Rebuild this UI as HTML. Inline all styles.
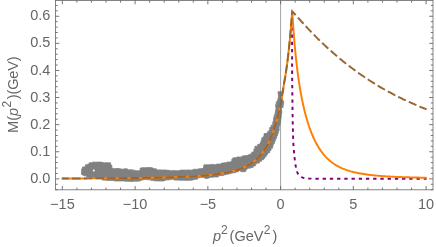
<!DOCTYPE html>
<html><head><meta charset="utf-8"><style>
html,body{margin:0;padding:0;background:#fff;}
svg{display:block;font-family:"Liberation Sans",sans-serif;will-change:transform;}
</style></head><body>
<svg width="436" height="247" viewBox="0 0 436 247">
<rect width="436" height="247" fill="#fff"/>
<path d="M81.5 174.4 L81.5 171.6 L81.6 169.5 L82.8 166.9 L85.4 166.9 L85.4 166.9 L85.4 164.8 L86.8 164.8 L89.2 163.7 L89.2 162.8 L91.1 162.8 L93.7 162.0 L96.3 162.3 L96.3 162.1 L98.9 162.1 L101.6 162.1 L101.6 162.3 L104.2 162.8 L106.8 162.8 L106.8 163.4 L106.8 162.8 L109.5 162.8 L110.6 162.8 L110.6 165.1 L111.8 165.1 L111.8 167.9 L114.2 168.7 L116.9 168.5 L116.9 168.5 L119.5 168.5 L122.1 169.3 L124.7 168.8 L127.3 168.8 L127.3 170.0 L127.3 169.8 L129.9 169.8 L132.5 169.8 L132.5 170.2 L135.1 170.2 L135.1 170.8 L137.6 170.8 L137.6 170.8 L140.1 170.7 L140.1 168.0 L141.8 168.0 L141.8 167.7 L144.2 167.7 L146.9 167.7 L146.9 167.5 L149.5 167.5 L152.1 167.7 L154.2 168.8 L156.4 168.8 L156.4 169.9 L159.0 169.9 L159.0 169.9 L161.6 169.9 L161.6 170.3 L161.6 170.0 L164.2 170.0 L166.9 170.0 L166.9 170.3 L169.5 170.3 L169.5 171.0 L169.5 170.8 L172.1 170.8 L172.1 170.6 L174.7 170.6 L177.3 170.9 L177.3 170.7 L180.0 170.7 L180.0 170.1 L182.6 170.1 L185.2 170.1 L185.2 170.2 L187.8 170.0 L190.5 170.0 L190.5 170.2 L193.1 169.9 L193.1 169.3 L195.7 169.3 L198.4 169.3 L198.4 169.8 L198.4 168.8 L201.0 168.8 L201.0 168.6 L203.5 168.6 L203.5 166.4 L203.9 166.4 L203.9 164.8 L205.8 164.8 L208.4 164.8 L208.4 165.0 L211.1 164.4 L213.7 164.4 L213.7 164.8 L213.7 164.7 L216.3 164.7 L216.3 164.1 L218.9 164.1 L218.9 164.0 L221.5 164.0 L221.5 163.0 L224.1 163.0 L224.1 162.8 L226.7 162.8 L226.7 162.1 L229.3 162.1 L231.8 161.4 L231.8 159.2 L232.8 159.2 L232.8 157.9 L234.2 157.9 L234.2 157.7 L236.8 157.7 L236.8 157.0 L239.4 157.0 L242.0 157.0 L242.0 155.9 L244.6 155.9 L244.6 155.6 L247.0 155.6 L249.4 154.4 L251.8 153.6 L251.8 152.0 L253.9 152.0 L253.9 149.1 L254.9 149.1 L254.9 146.5 L255.1 146.5 L255.1 146.2 L257.6 146.2 L257.6 144.5 L260.0 144.5 L260.0 142.6 L261.1 142.6 L261.1 140.2 L261.8 140.2 L261.8 137.8 L262.9 137.8 L264.0 135.5 L264.0 133.6 L266.5 133.6 L267.7 131.8 L269.7 129.8 L269.7 127.5 L271.0 127.5 L271.0 125.2 L272.8 125.2 L272.7 122.7 L273.6 120.1 L273.6 117.5 L274.2 117.5 L274.2 114.9 L275.1 114.9 L275.1 112.3 L275.6 112.3 L275.6 109.7 L276.0 109.7 L276.0 107.1 L275.7 107.1 L275.7 104.5 L276.2 104.5 L276.2 102.0 L276.8 102.0 L277.9 99.4 L278.4 96.8 L278.4 94.2 L278.1 94.2 L278.1 91.7 L278.9 91.7 L281.9 91.7 L281.9 94.3 L282.0 94.3 L282.0 97.0 L282.3 97.0 L282.4 99.5 L283.6 101.2 L283.6 103.8 L283.3 103.8 L283.1 106.1 L283.1 107.5 L281.5 107.5 L281.5 110.1 L281.6 110.1 L281.8 112.8 L281.2 115.4 L281.2 118.0 L280.7 118.0 L280.7 120.6 L280.3 120.6 L280.3 123.2 L280.0 123.2 L280.0 125.8 L279.1 125.8 L279.1 128.4 L279.1 128.4 L279.1 130.9 L278.3 130.9 L278.3 133.5 L277.5 133.5 L277.5 135.9 L276.6 135.9 L276.6 138.5 L275.4 138.5 L275.4 141.0 L274.6 141.0 L274.6 143.4 L273.3 143.4 L273.3 145.8 L272.6 145.8 L272.6 148.2 L271.0 148.2 L271.0 150.5 L269.7 150.5 L269.7 152.7 L268.4 152.7 L267.0 155.0 L265.5 157.1 L263.7 159.1 L263.7 159.7 L261.5 159.7 L261.5 161.3 L259.4 161.3 L259.4 163.1 L257.5 163.1 L255.3 164.8 L255.3 165.9 L253.1 165.9 L253.1 167.4 L250.5 167.4 L250.5 168.2 L248.1 168.2 L246.4 169.7 L245.4 171.6 L245.4 171.7 L242.7 171.7 L240.8 171.7 L240.8 170.6 L238.6 170.4 L238.6 171.7 L236.1 171.7 L236.1 172.6 L233.6 172.6 L233.6 173.0 L231.0 173.0 L231.0 173.7 L228.5 173.7 L228.5 174.2 L226.0 174.2 L226.0 174.8 L223.4 174.8 L223.4 175.5 L220.8 175.5 L218.2 176.0 L218.2 177.0 L215.6 177.0 L213.0 176.9 L213.0 177.3 L210.4 177.3 L207.8 178.4 L205.2 178.4 L205.2 178.0 L202.5 177.3 L199.9 177.3 L199.9 177.3 L199.9 177.8 L197.5 177.8 L197.5 179.2 L195.0 179.2 L192.4 180.0 L192.4 180.2 L189.8 180.2 L189.8 180.3 L187.2 180.3 L184.5 180.3 L184.5 180.1 L184.5 180.2 L181.9 180.2 L179.2 180.2 L179.2 180.0 L179.2 180.1 L176.6 180.1 L174.1 180.1 L174.1 179.2 L171.6 179.2 L171.6 179.0 L171.6 179.6 L169.1 179.6 L169.1 179.9 L166.5 179.9 L163.9 180.7 L163.9 181.0 L161.2 181.0 L158.6 181.0 L158.6 180.9 L156.0 180.9 L156.0 180.8 L153.4 180.8 L153.4 180.3 L150.8 180.3 L150.8 179.8 L148.2 179.8 L148.2 179.4 L148.2 179.6 L145.5 179.6 L142.9 179.6 L142.9 179.5 L142.9 180.1 L140.5 180.1 L140.5 181.0 L138.1 181.0 L138.1 181.2 L135.4 181.2 L132.8 181.2 L132.8 181.4 L130.1 181.4 L127.5 181.2 L124.9 181.2 L124.9 180.6 L124.9 180.9 L122.3 180.9 L119.6 181.0 L117.0 181.0 L117.0 181.0 L114.3 181.0 L114.3 180.5 L111.7 180.5 L111.7 180.4 L109.0 180.4 L106.4 180.4 L106.4 180.3 L103.8 180.1 L102.2 180.1 L102.2 178.3 L99.6 178.3 L99.6 178.2 L97.0 178.2 L97.0 178.1 L94.4 178.1 L94.4 177.6 L91.8 177.6 L91.8 177.3 L89.2 177.3 L89.2 176.9 L86.6 176.9 L86.6 175.8 L84.0 175.8 L84.0 175.6Z" fill="#808080" stroke="#808080" stroke-width="0.8" stroke-linejoin="round"/><circle cx="93.8" cy="170.4" r="1.0" fill="#fff"/><path d="M292.20 11.40 L292.19 12.87 L292.18 14.35 L292.18 15.82 L292.17 17.29 L292.16 18.76 L292.15 20.24 L292.15 21.71 L292.14 23.18 L292.14 24.65 L292.13 26.13 L292.13 27.60 L292.13 29.07 L292.12 30.54 L292.12 32.02 L292.12 33.49 L292.11 34.96 L292.11 36.43 L292.11 37.91 L292.11 39.38 L292.11 40.85 L292.10 42.32 L292.10 43.80 L292.10 45.27 L292.10 46.74 L292.10 48.21 L292.10 49.69 L292.10 51.16 L292.10 52.63 L292.10 54.10 L292.10 55.58 L292.10 57.05 L292.10 58.52 L292.10 59.99 L292.10 61.47 L292.10 62.94 L292.11 64.41 L292.11 65.88 L292.11 67.36 L292.12 68.83 L292.13 70.30 L292.14 71.77 L292.14 73.25 L292.15 74.72 L292.17 76.19 L292.18 77.66 L292.19 79.14 L292.20 80.61 L292.21 82.08 L292.23 83.55 L292.24 85.03 L292.26 86.50 L292.27 87.97 L292.29 89.44 L292.30 90.92 L292.32 92.39 L292.33 93.86 L292.35 95.33 L292.37 96.81 L292.38 98.28 L292.40 99.75 L292.41 101.22 L292.43 102.70 L292.45 104.17 L292.47 105.64 L292.48 107.12 L292.50 108.59 L292.52 110.06 L292.54 111.53 L292.57 113.01 L292.59 114.48 L292.61 115.95 L292.64 117.43 L292.66 118.90 L292.69 120.37 L292.72 121.84 L292.75 123.32 L292.78 124.79 L292.81 126.26 L292.85 127.73 L292.88 129.21 L292.92 130.68 L292.96 132.15 L293.00 133.62 L293.04 135.09 L293.09 136.56 L293.13 138.03 L293.18 139.50 L293.24 140.97 L293.31 142.44 L293.39 143.91 L293.48 145.38 L293.59 146.85 L293.70 148.32 L293.82 149.79 L293.95 151.26 L294.09 152.73 L294.23 154.19 L294.37 155.66 L294.51 157.12 L294.67 158.59 L294.84 160.05 L295.02 161.52 L295.22 162.98 L295.44 164.43 L295.68 165.88 L295.94 167.34 L296.25 168.80 L296.60 170.25 L297.03 171.65 L297.55 172.98 L298.29 174.32 L299.20 175.52 L300.25 176.43 L301.57 177.18 L302.97 177.69 L304.38 178.00 L305.83 178.27 L307.31 178.46 L308.80 178.58 L310.26 178.62 L311.73 178.65 L313.20 178.67 L314.67 178.70 L316.14 178.72 L317.61 178.73 L319.09 178.75 L320.56 178.76 L322.04 178.77 L323.51 178.78 L324.99 178.79 L326.46 178.80 L327.94 178.80 L329.41 178.80 L330.88 178.80 L332.36 178.80 L333.83 178.80 L335.30 178.80 L336.77 178.80 L338.25 178.80 L339.72 178.80 L341.19 178.80 L342.66 178.80 L344.14 178.80 L345.61 178.80 L347.08 178.80 L348.55 178.80 L350.03 178.80 L351.50 178.80 L352.97 178.80 L354.44 178.80 L355.92 178.80 L357.39 178.80 L358.86 178.80 L360.33 178.80 L361.81 178.80 L363.28 178.80 L364.75 178.80 L366.22 178.80 L367.70 178.80 L369.17 178.80 L370.64 178.80 L372.11 178.80 L373.59 178.80 L375.06 178.80 L376.53 178.80 L378.00 178.80 L379.48 178.80 L380.95 178.80 L382.42 178.80 L383.90 178.80 L385.37 178.80 L386.84 178.80 L388.31 178.80 L389.79 178.80 L391.26 178.80 L392.73 178.80 L394.20 178.80 L395.68 178.80 L397.15 178.80 L398.62 178.80 L400.09 178.80 L401.57 178.80 L403.04 178.80 L404.51 178.80 L405.98 178.80 L407.46 178.80 L408.93 178.80 L410.40 178.80 L411.87 178.80 L413.35 178.80 L414.82 178.80 L416.29 178.80 L417.76 178.80 L419.24 178.80 L420.71 178.80 L422.18 178.80 L423.65 178.80 L425.13 178.80 L426.60 178.80" fill="none" stroke="#800080" stroke-width="1.95" stroke-dasharray="3.3 3.920" stroke-dashoffset="5.77" stroke-linejoin="round"/><path d="M61.80 178.54 L64.99 178.52 L68.18 178.50 L71.37 178.49 L74.56 178.47 L77.75 178.45 L80.94 178.44 L84.13 178.42 L87.32 178.40 L90.51 178.38 L93.70 178.36 L96.89 178.33 L100.08 178.31 L103.27 178.29 L106.46 178.26 L109.65 178.24 L112.84 178.21 L116.03 178.18 L119.22 178.15 L122.41 178.12 L125.60 178.08 L128.79 178.05 L131.98 178.01 L135.17 177.97 L138.36 177.92 L141.55 177.88 L144.74 177.83 L147.93 177.78 L151.12 177.72 L154.31 177.66 L157.49 177.59 L160.68 177.52 L163.87 177.45 L167.06 177.36 L170.25 177.27 L173.44 177.17 L176.63 177.07 L179.82 176.95 L183.01 176.82 L186.20 176.68 L189.39 176.53 L192.58 176.35 L195.77 176.16 L198.96 175.95 L202.15 175.72 L205.34 175.46 L208.53 175.16 L211.72 174.83 L214.91 174.46 L218.10 174.04 L221.29 173.56 L224.48 173.01 L227.67 172.38 L230.86 171.67 L234.05 170.84 L237.24 169.87 L240.43 168.75 L243.62 167.44 L246.81 165.89 L250.00 164.05 L250.53 163.71 L251.07 163.36 L251.60 163.00 L252.14 162.63 L252.67 162.25 L253.21 161.85 L253.74 161.45 L254.27 161.03 L254.81 160.60 L255.34 160.15 L255.88 159.69 L256.41 159.21 L256.94 158.72 L257.48 158.22 L258.01 157.69 L258.55 157.15 L259.08 156.59 L259.62 156.02 L260.15 155.42 L260.68 154.80 L261.22 154.16 L261.75 153.50 L262.29 152.82 L262.82 152.11 L263.35 151.38 L263.89 150.62 L264.42 149.83 L264.96 149.02 L265.49 148.17 L266.03 147.30 L266.56 146.39 L267.09 145.45 L267.63 144.47 L268.16 143.46 L268.70 142.41 L269.23 141.31 L269.76 140.18 L270.30 139.00 L270.83 137.77 L271.37 136.50 L271.90 135.17 L272.44 133.79 L272.97 132.36 L273.50 130.86 L274.04 129.31 L274.57 127.69 L275.11 126.00 L275.64 124.24 L276.17 122.40 L276.71 120.49 L277.24 118.49 L277.78 116.40 L278.31 114.22 L278.85 111.94 L279.38 109.56 L279.91 107.07 L280.45 104.46 L280.98 101.74 L281.52 98.88 L282.05 95.89 L282.58 92.76 L283.12 89.47 L283.65 86.03 L284.19 82.71 L284.72 79.75 L285.26 76.60 L285.79 73.24 L286.32 69.67 L286.86 65.87 L287.39 61.83 L287.93 57.53 L288.46 52.95 L288.99 48.07 L289.53 42.88 L290.06 37.35 L290.60 31.47 L291.13 25.20 L291.67 18.52 L292.20 11.40 L292.53 16.53 L292.86 21.47 L293.19 26.19 L293.52 30.70 L293.85 34.99 L294.18 39.08 L294.51 42.98 L294.84 46.69 L295.17 50.24 L295.50 53.62 L295.83 56.86 L296.16 59.95 L296.49 62.92 L296.81 65.77 L297.14 68.51 L297.47 71.14 L297.80 73.67 L298.13 76.11 L298.46 78.46 L298.79 80.73 L299.12 82.92 L299.45 85.03 L299.78 87.08 L300.11 89.07 L300.44 90.99 L300.77 92.85 L301.10 94.66 L301.43 96.41 L301.76 98.12 L302.09 99.77 L302.42 101.38 L302.75 102.94 L303.08 104.46 L303.41 105.95 L303.74 107.39 L304.07 108.79 L304.40 110.16 L304.73 111.50 L305.06 112.80 L305.38 114.07 L305.71 115.31 L306.04 116.52 L306.37 117.70 L306.70 118.85 L307.03 119.98 L307.36 121.08 L307.69 122.16 L308.02 123.21 L308.35 124.24 L308.68 125.24 L309.01 126.23 L309.34 127.19 L309.67 128.13 L310.00 129.05 L310.33 129.95 L310.66 130.83 L310.99 131.69 L311.32 132.54 L311.65 133.37 L311.98 134.18 L312.31 134.97 L312.64 135.75 L312.97 136.51 L313.30 137.25 L313.63 137.98 L313.96 138.70 L314.28 139.40 L314.61 140.09 L314.94 140.76 L315.27 141.42 L315.60 142.07 L315.93 142.70 L316.26 143.32 L316.59 143.93 L316.92 144.52 L317.25 145.11 L317.58 145.68 L317.91 146.25 L318.24 146.80 L318.57 147.34 L318.90 147.87 L319.23 148.39 L319.56 148.90 L319.89 149.40 L320.22 149.89 L320.55 150.37 L320.88 150.84 L321.21 151.30 L321.54 151.75 L321.87 152.20 L322.20 152.63 L322.53 153.06 L322.85 153.48 L323.18 153.89 L323.51 154.30 L323.84 154.69 L324.17 155.08 L324.50 155.46 L324.83 155.84 L325.16 156.20 L325.49 156.56 L325.82 156.92 L326.15 157.26 L326.48 157.61 L326.81 157.94 L327.14 158.27 L327.47 158.59 L327.80 158.90 L328.13 159.21 L328.46 159.52 L328.79 159.82 L329.12 160.11 L329.45 160.40 L329.78 160.68 L330.11 160.96 L330.44 161.23 L330.77 161.50 L331.10 161.76 L331.43 162.02 L333.04 163.21 L334.65 164.30 L336.26 165.30 L337.88 166.22 L339.49 167.06 L341.10 167.83 L342.72 168.54 L344.33 169.20 L345.94 169.80 L347.56 170.35 L349.17 170.86 L350.78 171.34 L352.40 171.77 L354.01 172.18 L355.62 172.55 L357.24 172.90 L358.85 173.22 L360.46 173.52 L362.07 173.80 L363.69 174.06 L365.30 174.31 L366.91 174.53 L368.53 174.74 L370.14 174.94 L371.75 175.12 L373.37 175.30 L374.98 175.46 L376.59 175.61 L378.21 175.75 L379.82 175.89 L381.43 176.01 L383.05 176.13 L384.66 176.24 L386.27 176.35 L387.88 176.45 L389.50 176.54 L391.11 176.63 L392.72 176.71 L394.34 176.79 L395.95 176.86 L397.56 176.94 L399.18 177.00 L400.79 177.07 L402.40 177.13 L404.02 177.18 L405.63 177.24 L407.24 177.29 L408.86 177.34 L410.47 177.38 L412.08 177.43 L413.69 177.47 L415.31 177.51 L416.92 177.55 L418.53 177.59 L420.15 177.62 L421.76 177.66 L423.37 177.69 L424.99 177.72 L426.60 177.75" fill="none" stroke="#ff8000" stroke-width="1.95" stroke-linejoin="miter" stroke-miterlimit="10"/><path d="M61.80 178.54 L64.99 178.52 L68.18 178.50 L71.37 178.49 L74.56 178.47 L77.75 178.45 L80.94 178.44 L84.13 178.42 L87.32 178.40 L90.51 178.38 L93.70 178.36 L96.89 178.33 L100.08 178.31 L103.27 178.29 L106.46 178.26 L109.65 178.24 L112.84 178.21 L116.03 178.18 L119.22 178.15 L122.41 178.12 L125.60 178.08 L128.79 178.05 L131.98 178.01 L135.17 177.97 L138.36 177.92 L141.55 177.88 L144.74 177.83 L147.93 177.78 L151.12 177.72 L154.31 177.66 L157.49 177.59 L160.68 177.52 L163.87 177.45 L167.06 177.36 L170.25 177.27 L173.44 177.17 L176.63 177.07 L179.82 176.95 L183.01 176.82 L186.20 176.68 L189.39 176.53 L192.58 176.35 L195.77 176.16 L198.96 175.95 L202.15 175.72 L205.34 175.46 L208.53 175.16 L211.72 174.83 L214.91 174.46 L218.10 174.04 L221.29 173.56 L224.48 173.01 L227.67 172.38 L230.86 171.67 L234.05 170.84 L237.24 169.87 L240.43 168.75 L243.62 167.44 L246.81 165.89 L250.00 164.05 L250.53 163.71 L251.07 163.36 L251.60 163.00 L252.14 162.63 L252.67 162.25 L253.21 161.85 L253.74 161.45 L254.27 161.03 L254.81 160.60 L255.34 160.15 L255.88 159.69 L256.41 159.21 L256.94 158.72 L257.48 158.22 L258.01 157.69 L258.55 157.15 L259.08 156.59 L259.62 156.02 L260.15 155.42 L260.68 154.80 L261.22 154.16 L261.75 153.50 L262.29 152.82 L262.82 152.11 L263.35 151.38 L263.89 150.62 L264.42 149.83 L264.96 149.02 L265.49 148.17 L266.03 147.30 L266.56 146.39 L267.09 145.45 L267.63 144.47 L268.16 143.46 L268.70 142.41 L269.23 141.31 L269.76 140.18 L270.30 139.00 L270.83 137.77 L271.37 136.50 L271.90 135.17 L272.44 133.79 L272.97 132.36 L273.50 130.86 L274.04 129.31 L274.57 127.69 L275.11 126.00 L275.64 124.24 L276.17 122.40 L276.71 120.49 L277.24 118.49 L277.78 116.40 L278.31 114.22 L278.85 111.94 L279.38 109.56 L279.91 107.07 L280.45 104.46 L280.98 101.74 L281.52 98.88 L282.05 95.89 L282.58 92.76 L283.12 89.47 L283.65 86.03 L284.19 82.71 L284.72 79.75 L285.26 76.60 L285.79 73.24 L286.32 69.67 L286.86 65.87 L287.39 61.83 L287.93 57.53 L288.46 52.95 L288.99 48.07 L289.53 42.88 L290.06 37.35 L290.60 31.47 L291.13 25.20 L291.67 18.52 L292.20 11.40 L293.90 13.20 L295.60 15.03 L297.30 16.90 L299.01 18.77 L300.71 20.65 L302.41 22.52 L304.11 24.38 L305.81 26.22 L307.51 28.05 L309.21 29.86 L310.91 31.65 L312.62 33.41 L314.32 35.16 L316.02 36.88 L317.72 38.57 L319.42 40.25 L321.12 41.90 L322.82 43.53 L324.52 45.13 L326.23 46.72 L327.93 48.28 L329.63 49.81 L331.33 51.34 L333.03 52.84 L334.73 54.33 L336.43 55.79 L338.13 57.23 L339.84 58.66 L341.54 60.06 L343.24 61.44 L344.94 62.80 L346.64 64.14 L348.34 65.47 L350.04 66.77 L351.74 68.06 L353.45 69.32 L355.15 70.57 L356.85 71.81 L358.55 73.02 L360.25 74.22 L361.95 75.40 L363.65 76.56 L365.35 77.70 L367.06 78.83 L368.76 79.95 L370.46 81.05 L372.16 82.13 L373.86 83.19 L375.56 84.25 L377.26 85.28 L378.96 86.30 L380.67 87.31 L382.37 88.29 L384.07 89.25 L385.77 90.21 L387.47 91.15 L389.17 92.07 L390.87 92.98 L392.57 93.88 L394.28 94.77 L395.98 95.64 L397.68 96.50 L399.38 97.35 L401.08 98.19 L402.78 99.01 L404.48 99.82 L406.18 100.62 L407.89 101.41 L409.59 102.19 L411.29 102.96 L412.99 103.71 L414.69 104.46 L416.39 105.19 L418.09 105.91 L419.79 106.63 L421.50 107.33 L423.20 108.02 L424.90 108.70 L426.60 109.38" fill="none" stroke="#996633" stroke-width="1.95" stroke-dasharray="8.395 3.3" stroke-dashoffset="1.38" stroke-linejoin="miter" stroke-miterlimit="10"/>
<line x1="280.60" y1="0.5" x2="280.60" y2="189.8" stroke="#666" stroke-width="0.6"/>
<rect x="55.5" y="0.5" width="377.5" height="189.3" fill="none" stroke="#666" stroke-width="0.8"/>
<path d="M62.35 189.8v-3.8M62.35 0.5v3.8M76.90 189.8v-2.2M76.90 0.5v2.2M91.45 189.8v-2.2M91.45 0.5v2.2M106.00 189.8v-2.2M106.00 0.5v2.2M120.55 189.8v-2.2M120.55 0.5v2.2M135.10 189.8v-3.8M135.10 0.5v3.8M149.65 189.8v-2.2M149.65 0.5v2.2M164.20 189.8v-2.2M164.20 0.5v2.2M178.75 189.8v-2.2M178.75 0.5v2.2M193.30 189.8v-2.2M193.30 0.5v2.2M207.85 189.8v-3.8M207.85 0.5v3.8M222.40 189.8v-2.2M222.40 0.5v2.2M236.95 189.8v-2.2M236.95 0.5v2.2M251.50 189.8v-2.2M251.50 0.5v2.2M266.05 189.8v-2.2M266.05 0.5v2.2M280.60 189.8v-3.8M280.60 0.5v3.8M295.15 189.8v-2.2M295.15 0.5v2.2M309.70 189.8v-2.2M309.70 0.5v2.2M324.25 189.8v-2.2M324.25 0.5v2.2M338.80 189.8v-2.2M338.80 0.5v2.2M353.35 189.8v-3.8M353.35 0.5v3.8M367.90 189.8v-2.2M367.90 0.5v2.2M382.45 189.8v-2.2M382.45 0.5v2.2M397.00 189.8v-2.2M397.00 0.5v2.2M411.55 189.8v-2.2M411.55 0.5v2.2M426.10 189.8v-3.8M426.10 0.5v3.8M55.5 189.69h2.2M433.0 189.69h-2.2M55.5 184.27h2.2M433.0 184.27h-2.2M55.5 178.85h3.8M433.0 178.85h-3.8M55.5 173.43h2.2M433.0 173.43h-2.2M55.5 168.01h2.2M433.0 168.01h-2.2M55.5 162.59h2.2M433.0 162.59h-2.2M55.5 157.17h2.2M433.0 157.17h-2.2M55.5 151.75h3.8M433.0 151.75h-3.8M55.5 146.33h2.2M433.0 146.33h-2.2M55.5 140.91h2.2M433.0 140.91h-2.2M55.5 135.49h2.2M433.0 135.49h-2.2M55.5 130.07h2.2M433.0 130.07h-2.2M55.5 124.65h3.8M433.0 124.65h-3.8M55.5 119.23h2.2M433.0 119.23h-2.2M55.5 113.81h2.2M433.0 113.81h-2.2M55.5 108.39h2.2M433.0 108.39h-2.2M55.5 102.97h2.2M433.0 102.97h-2.2M55.5 97.55h3.8M433.0 97.55h-3.8M55.5 92.13h2.2M433.0 92.13h-2.2M55.5 86.71h2.2M433.0 86.71h-2.2M55.5 81.29h2.2M433.0 81.29h-2.2M55.5 75.87h2.2M433.0 75.87h-2.2M55.5 70.45h3.8M433.0 70.45h-3.8M55.5 65.03h2.2M433.0 65.03h-2.2M55.5 59.61h2.2M433.0 59.61h-2.2M55.5 54.19h2.2M433.0 54.19h-2.2M55.5 48.77h2.2M433.0 48.77h-2.2M55.5 43.35h3.8M433.0 43.35h-3.8M55.5 37.93h2.2M433.0 37.93h-2.2M55.5 32.51h2.2M433.0 32.51h-2.2M55.5 27.09h2.2M433.0 27.09h-2.2M55.5 21.67h2.2M433.0 21.67h-2.2M55.5 16.25h3.8M433.0 16.25h-3.8M55.5 10.83h2.2M433.0 10.83h-2.2M55.5 5.41h2.2M433.0 5.41h-2.2" stroke="#666" stroke-width="0.9" fill="none"/>
<g font-size="14.5" fill="#666"><text x="62.4" y="209.3" text-anchor="middle">−15</text><text x="135.1" y="209.3" text-anchor="middle">−10</text><text x="207.9" y="209.3" text-anchor="middle">−5</text><text x="280.6" y="209.3" text-anchor="middle">0</text><text x="353.4" y="209.3" text-anchor="middle">5</text><text x="426.1" y="209.3" text-anchor="middle">10</text><text x="50.3" y="182.9" text-anchor="end">0.0</text><text x="50.3" y="155.8" text-anchor="end">0.1</text><text x="50.3" y="128.8" text-anchor="end">0.2</text><text x="50.3" y="101.6" text-anchor="end">0.3</text><text x="50.3" y="74.5" text-anchor="end">0.4</text><text x="50.3" y="47.4" text-anchor="end">0.5</text><text x="50.3" y="20.4" text-anchor="end">0.6</text></g>
<g font-size="14.5" fill="#666">
<text y="240.6"><tspan x="213.1" font-style="italic">p</tspan><tspan x="221.0" y="234.1" font-size="12">2</tspan><tspan x="229.6" y="240.6">(GeV</tspan><tspan x="263.7" y="234.1" font-size="12">2</tspan><tspan x="272.4" y="240.6">)</tspan></text>
<text transform="translate(18,132.9) rotate(-90)"><tspan x="0" y="0">M(</tspan><tspan x="16.9" font-style="italic">p</tspan><tspan x="25.3" y="-6.9" font-size="12">2</tspan><tspan x="33.7" y="0" letter-spacing="-0.12">)(GeV)</tspan></text>
</g>
</svg>
</body></html>
